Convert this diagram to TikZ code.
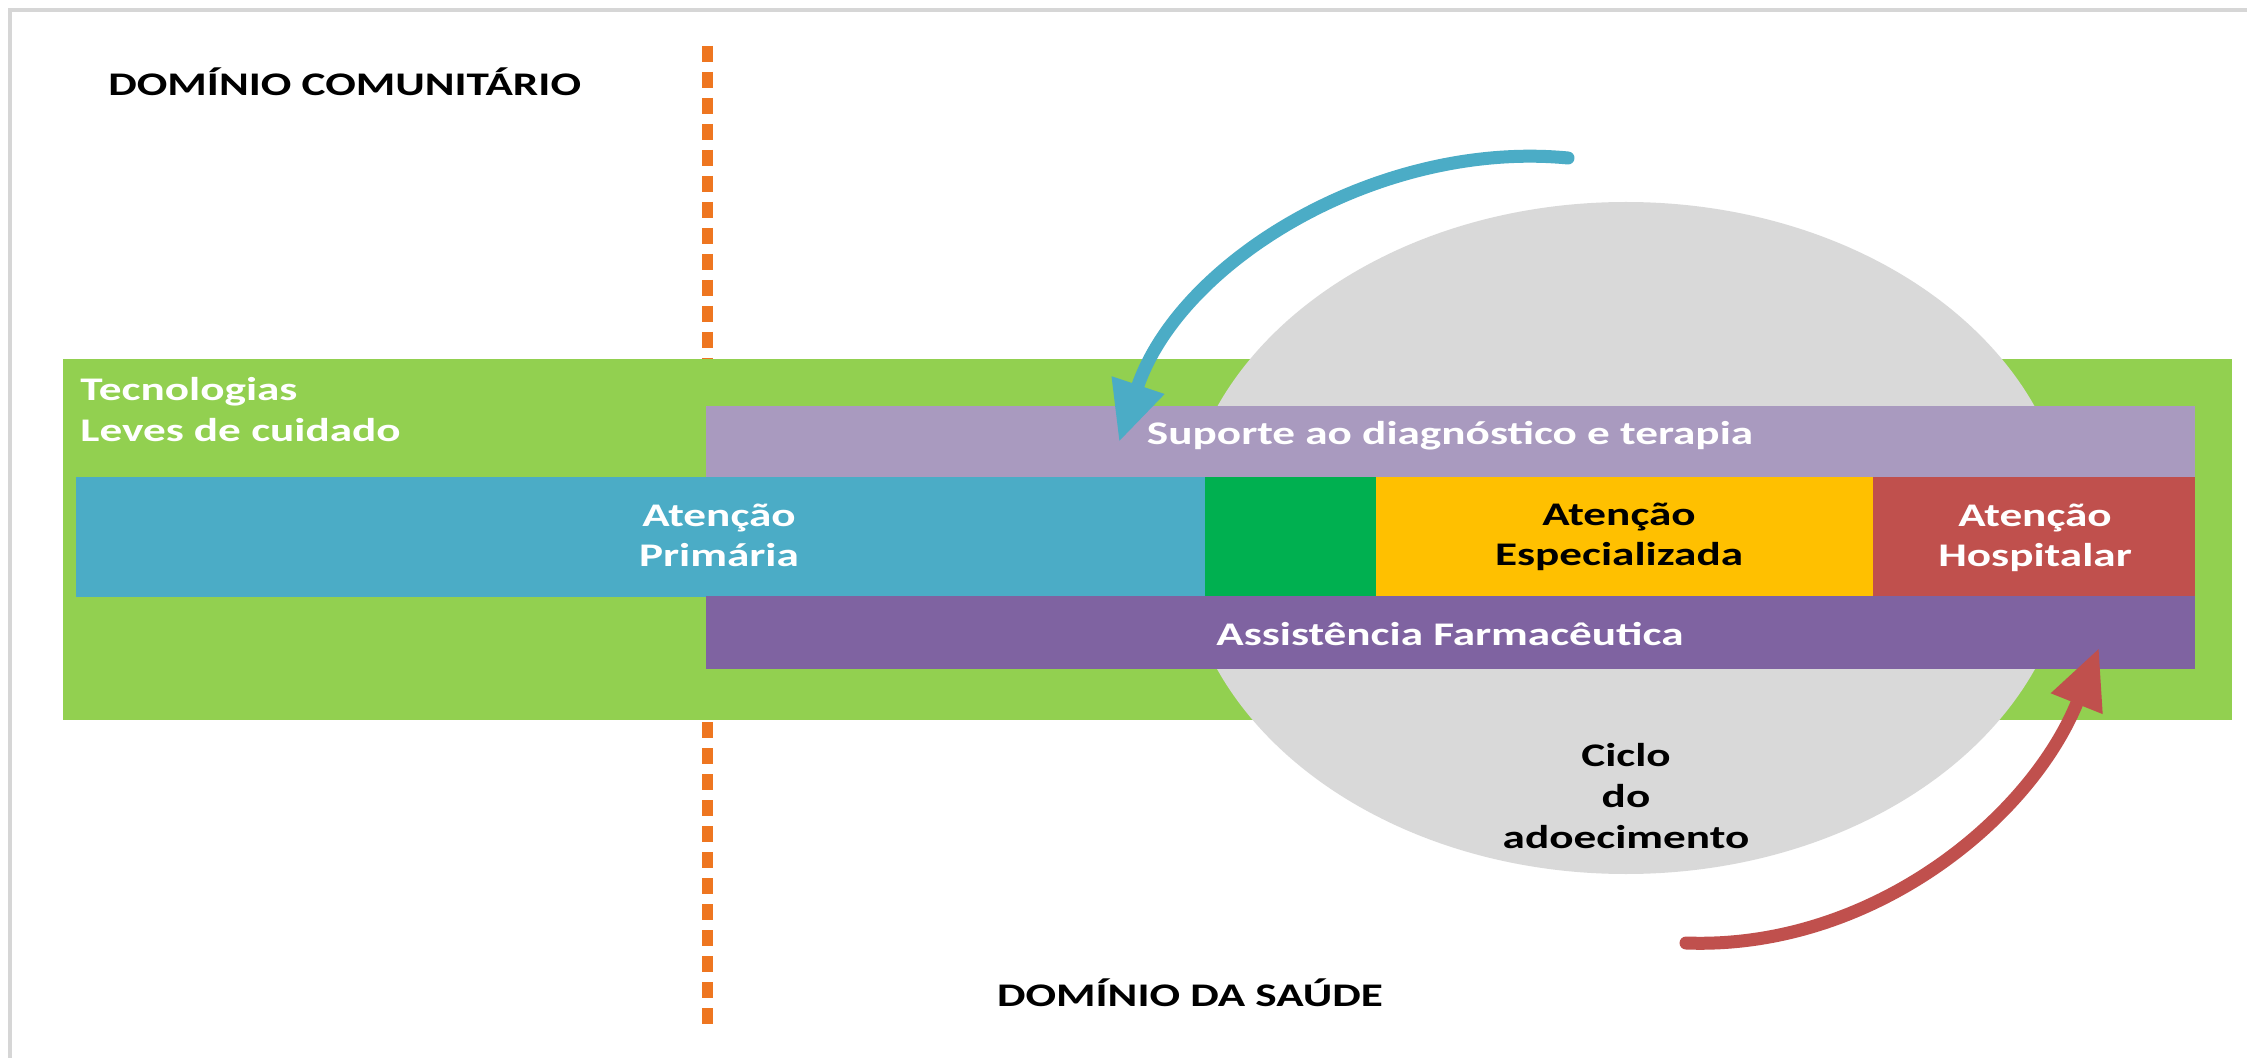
\documentclass[tikz,border=0pt]{standalone}
\usepackage{fontspec}
\setmainfont{Carlito}[FakeStretch=1.37]
\usetikzlibrary{arrows.meta}
\definecolor{bggreen}{HTML}{92D050}
\definecolor{lpurple}{HTML}{A99ABF}
\definecolor{dpurple}{HTML}{7F63A1}
\definecolor{apblue}{HTML}{4BACC6}
\definecolor{midgreen}{HTML}{00B050}
\definecolor{aeyellow}{HTML}{FFC000}
\definecolor{ahred}{HTML}{C0504D}
\definecolor{cyclegray}{HTML}{D9D9D9}
\definecolor{dashorange}{HTML}{EE7620}
\definecolor{framegray}{HTML}{D6D6D6}
\begin{document}
\begin{tikzpicture}[x=0.5pt,y=-0.5pt,
  lbl/.style={font=\fontsize{16.5pt}{20.5pt}\selectfont\bfseries, inner sep=0pt, align=center},
  flowarrow/.style={line width=6.5pt, line cap=round, -{Triangle[length=30pt,width=26pt]}},
  divider/.style={dashorange, line width=5.5pt, dash pattern=on 8pt off 5pt}]
\useasboundingbox (0,0) rectangle (2247,1058);
\fill[white] (0,0) rectangle (2247,1058);
% frame
\draw[framegray, line width=2pt] (9.5,1058) -- (9.5,10.5) -- (2247,10.5);
% divider
\coordinate (dtop) at (707,46);
\coordinate (dbot) at (707,1026);
\draw[divider] (dtop) -- (dbot);
% green band
\fill[bggreen] (63,359) rectangle (2232,720);
% cycle ellipse
\fill[cyclegray] (1626,538) ellipse [x radius=444, y radius=336];
% bars
\fill[lpurple] (706,406) rectangle (2195,477);
\fill[apblue] (76,477) rectangle (1206,597);
\fill[midgreen] (1205,477) rectangle (1377,597);
\fill[aeyellow] (1376,477) rectangle (1874,597);
\fill[ahred] (1873,477) rectangle (2195,597);
\fill[dpurple] (706,596) rectangle (2195,669);
% texts (base anchor = baseline of the last line)
\node[lbl, anchor=base west] (dc) at (108,96) {DOMÍNIO COMUNITÁRIO};
\node[lbl, anchor=base] (ds) at (1190,1006) {DOMÍNIO DA SAÚDE};
\node[lbl, anchor=base west, align=left, text=white] (tec) at (80,442) {Tecnologias\\Leves de cuidado};
\node[lbl, anchor=base, text=white] (sup) at (1450,445) {Suporte ao diagnóstico e terapia};
\node[lbl, anchor=base, text=white] (ap) at (719,567) {Atenção\\Primária};
\node[lbl, anchor=base] (ae) at (1619,566) {Atenção\\Especializada};
\node[lbl, anchor=base, text=white] (ah) at (2035,567) {Atenção\\Hospitalar};
\node[lbl, anchor=base, text=white] (af) at (1450,645) {Assistência Farmacêutica};
\node[lbl, anchor=base] (cic) at (1626,848) {Ciclo\\do\\adoecimento};
% arrows
\coordinate (bs) at (1568,158);
\coordinate (be) at (1119,442);
\draw[flowarrow, apblue] (bs) .. controls (1380,140) and (1180,260) .. (be);
\coordinate (rs) at (1686,943);
\coordinate (re) at (2099,648);
\draw[flowarrow, ahred] (rs) .. controls (1870,950) and (2030,820) .. (re);
\end{tikzpicture}
\end{document}
